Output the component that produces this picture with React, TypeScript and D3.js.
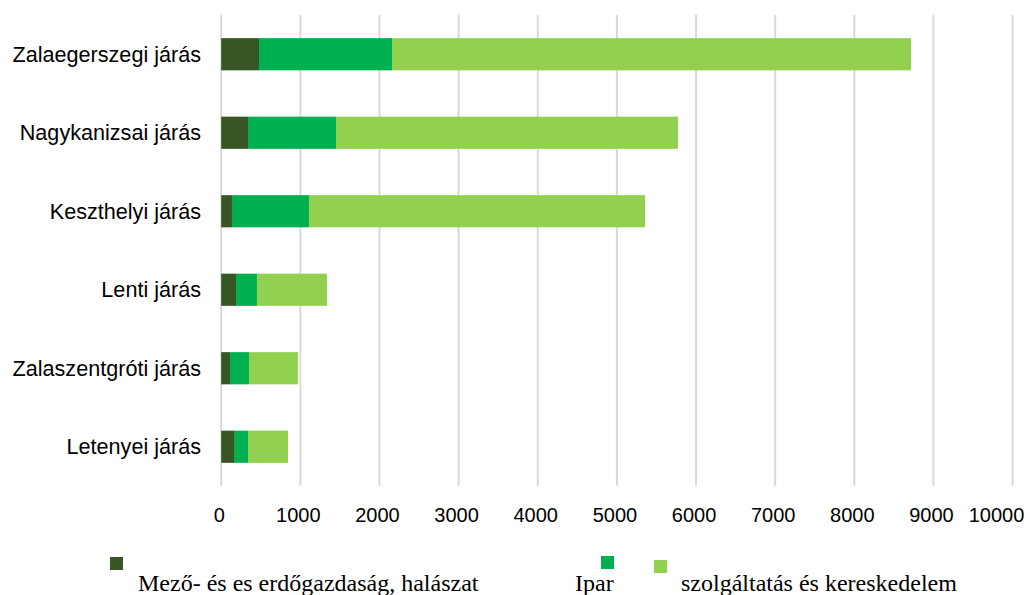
import React from "react";
import * as d3 from "d3";

const categories = [
  "Zalaegerszegi járás",
  "Nagykanizsai járás",
  "Keszthelyi járás",
  "Lenti járás",
  "Zalaszentgróti járás",
  "Letenyei járás",
];
const mezo = [478, 339, 136, 187, 111, 162];
const ipar = [1680, 1112, 973, 265, 240, 177];
const szolg = [6558, 4321, 4246, 885, 619, 505];
const seriesNames = ["Mező- és es erdőgazdaság, halászat", "Ipar", "szolgáltatás és kereskedelem"];
const seriesColors = ["#375623", "#00B050", "#92D050"];
const xTicks = [0, 1000, 2000, 3000, 4000, 5000, 6000, 7000, 8000, 9000, 10000];

const W = 1030;
const H = 595;
const plot = { left: 221.2, right: 1012.6, top: 15, bottom: 486 };

export default function App() {
  const x = d3.scaleLinear().domain([0, 10000]).range([plot.left, plot.right]);
  const y = d3
    .scaleBand<string>()
    .domain(categories)
    .range([plot.top, plot.bottom])
    .paddingInner(0.59)
    .paddingOuter(0.295);

  const rows = categories.map((c, i) => ({ cat: c, mezo: mezo[i], ipar: ipar[i], szolg: szolg[i] }));
  const stack = d3.stack<any>().keys(["mezo", "ipar", "szolg"]);
  const layers = stack(rows);

  const legend = [
    { sx: 110, sy: 557, tx: 138, ty: 591 },
    { sx: 601, sy: 556, tx: 575, ty: 591 },
    { sx: 654, sy: 560, tx: 681, ty: 591 },
  ];

  return (
    <svg
      width={W}
      height={H}
      style={{ position: "absolute", left: 0, top: 0, background: "#fff" }}
    >
      <rect x={0} y={0} width={W} height={H} fill="#fff" />
      {xTicks.map((t) => (
        <line
          key={"g" + t}
          x1={x(t)}
          x2={x(t)}
          y1={plot.top}
          y2={plot.bottom}
          stroke="#d9d9d9"
          strokeWidth={2}
        />
      ))}
      {layers.map((layer, li) =>
        layer.map((d, i) => (
          <rect
            key={li + "-" + i}
            x={x(d[0])}
            y={y(categories[i])}
            width={x(d[1]) - x(d[0])}
            height={y.bandwidth()}
            fill={seriesColors[li]}
          />
        ))
      )}
      {categories.map((c) => (
        <text
          key={c}
          x={201}
          y={(y(c) as number) + y.bandwidth() / 2}
          dy="0.35em"
          textAnchor="end"
          fontFamily="Liberation Sans, Arial, sans-serif"
          fontSize={21.6}
          fill="#000"
        >
          {c}
        </text>
      ))}
      {xTicks.map((t) => {
        const label = String(t);
        const half = (label.length * 11) / 2;
        const cx = Math.min(x(t) - 2, 1024 - half);
        return (
          <text
            key={"t" + t}
            x={cx}
            y={521.5}
            textAnchor="middle"
            fontFamily="Liberation Sans, Arial, sans-serif"
            fontSize={20}
            fill="#000"
          >
            {label}
          </text>
        );
      })}
      {seriesNames.map((n, i) => (
        <g key={n}>
          <rect x={legend[i].sx} y={legend[i].sy} width={13} height={13} fill={seriesColors[i]} />
          <text
            x={legend[i].tx}
            y={legend[i].ty}
            fontFamily="Liberation Serif, Times New Roman, serif"
            fontSize={24}
            fill="#000"
          >
            {n}
          </text>
        </g>
      ))}
    </svg>
  );
}
